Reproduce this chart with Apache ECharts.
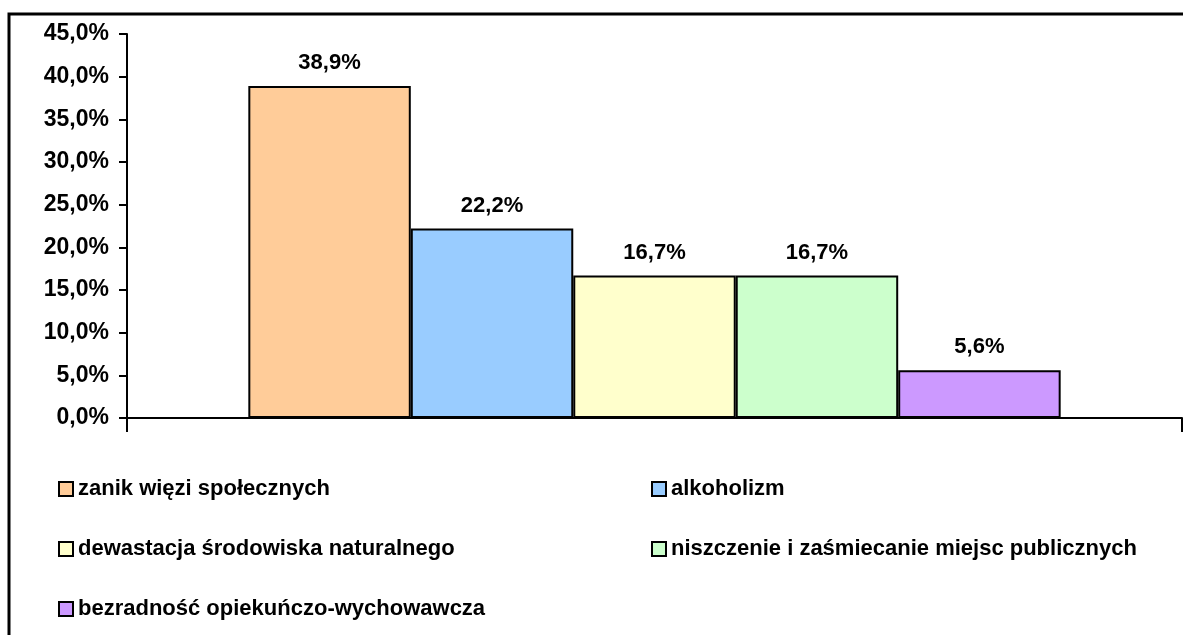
<!DOCTYPE html>
<html>
<head>
<meta charset="utf-8">
<script src="https://cdn.jsdelivr.net/npm/echarts@6/dist/echarts.min.js"></script>
<style>
html, body { margin: 0; padding: 0; background: #fff; }
#main { width: 1183px; height: 635px; }
</style>
</head>
<body>
<div id="main"></div>
<script>
var names = [
    'zanik więzi społecznych',
    'alkoholizm',
    'dewastacja środowiska naturalnego',
    'niszczenie i zaśmiecanie miejsc publicznych',
    'bezradność opiekuńczo-wychowawcza'
];
var values = [38.9, 22.2, 16.7, 16.7, 5.6];
var colors = ['#FFCC99', '#99CCFF', '#FFFFCC', '#CCFFCC', '#CC99FF'];
var yTicks = [0, 5, 10, 15, 20, 25, 30, 35, 40, 45];

var font = 'Arial, "Liberation Sans", sans-serif';

function pct(v) {
    return v.toFixed(1).replace('.', ',') + '%';
}

var series = [];
for (var i = 0; i < names.length; i++) {
    series.push({
        name: names[i],
        type: 'bar',
        data: [values[i]],
        barGap: 0,
        barCategoryGap: '23%',
        itemStyle: {
            color: colors[i],
            borderColor: '#000',
            borderWidth: 2
        },
        label: {
            show: true,
            position: 'top',
            distance: 12,
            color: '#000',
            fontFamily: font,
            fontWeight: 'bold',
            fontSize: 22,
            formatter: function (p) { return pct(p.value); }
        }
    });
}

var legendText = {
    color: '#000',
    fontFamily: font,
    fontWeight: 'bold',
    fontSize: 22
};

var myChart = echarts.init(document.getElementById('main'));
myChart.setOption({
    animation: false,
    graphic: [{
        type: 'rect',
        shape: { x: 9, y: 14, width: 1200, height: 700 },
        style: { fill: 'none', stroke: '#000', lineWidth: 3 }
    }],
    grid: {
        left: 127,
        right: 1,
        top: 34,
        bottom: 217
    },
    legend: [{
        orient: 'vertical',
        left: 53,
        top: 473,
        icon: 'rect',
        itemWidth: 14,
        itemHeight: 14,
        itemGap: 38,
        textStyle: legendText,
        data: [names[0], names[2], names[4]]
    }, {
        orient: 'vertical',
        left: 646,
        top: 473,
        icon: 'rect',
        itemWidth: 14,
        itemHeight: 14,
        itemGap: 38,
        textStyle: legendText,
        data: [names[1], names[3]]
    }],
    xAxis: {
        type: 'category',
        data: [''],
        axisLine: { lineStyle: { color: '#000', width: 2 } },
        axisTick: { show: true, length: 14, lineStyle: { color: '#000', width: 2 } },
        axisLabel: { show: false }
    },
    yAxis: {
        type: 'value',
        min: yTicks[0],
        max: yTicks[yTicks.length - 1],
        interval: 5,
        axisLine: { show: true, lineStyle: { color: '#000', width: 2 } },
        axisTick: { show: true, length: 8, lineStyle: { color: '#000', width: 2 } },
        splitLine: { show: false },
        axisLabel: {
            color: '#000',
            fontFamily: font,
            fontWeight: 'bold',
            fontSize: 23,
            margin: 18,
            formatter: function (v) { return pct(v); }
        }
    },
    series: series
});
</script>
</body>
</html>
